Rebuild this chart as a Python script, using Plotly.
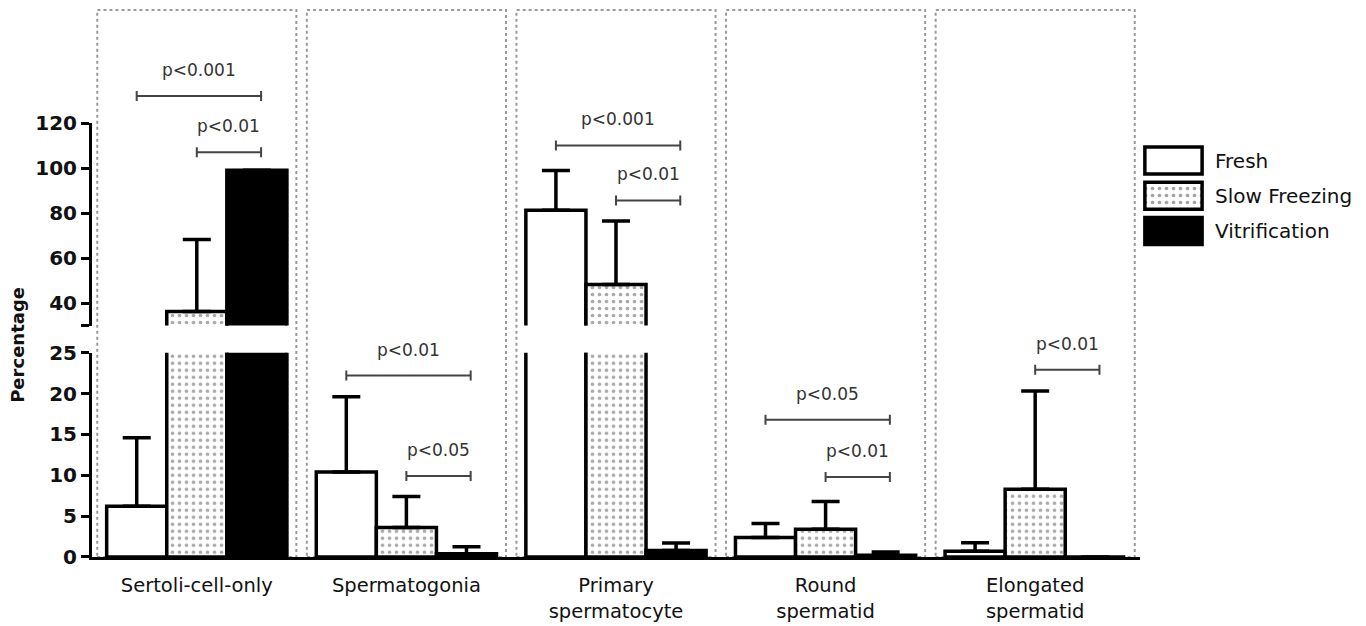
import plotly.graph_objects as go

# ---------------- data ----------------
categories = ["Sertoli-cell-only", "Spermatogonia", "Primary<br>spermatocyte",
              "Round<br>spermatid", "Elongated<br>spermatid"]
series_names = ["Fresh", "Slow Freezing", "Vitrification"]
fresh = [6.2, 10.4, 81.2, 2.4, 0.7]
fresh_err = [8.4, 9.2, 17.7, 1.7, 1.05]
slow = [36.2, 3.6, 48.2, 3.4, 8.3]
slow_err = [32.0, 3.8, 28.2, 3.4, 12.0]
vitr = [99.0, 0.4, 0.8, 0.2, 0.0]
vitr_err = [0.0, 0.85, 0.9, 0.4, 0.0]
lower_ticks = [0, 5, 10, 15, 20, 25]
upper_ticks = [30, 40, 60, 80, 100, 120]
upper_ticktext = ["", "40", "60", "80", "100", "120"]
# significance brackets: (category index, from series, to series, level, segment, label)
brackets = [
    (0, 0, 2, 132.0, "upper", "p<0.001"),
    (0, 1, 2, 107.0, "upper", "p<0.01"),
    (1, 0, 2, 22.2, "lower", "p<0.01"),
    (1, 1, 2, 9.9, "lower", "p<0.05"),
    (2, 0, 2, 110.0, "upper", "p<0.001"),
    (2, 1, 2, 85.6, "upper", "p<0.01"),
    (3, 0, 2, 16.8, "lower", "p<0.05"),
    (3, 1, 2, 9.8, "lower", "p<0.01"),
    (4, 1, 2, 22.9, "lower", "p<0.01"),
]

values = [fresh, slow, vitr]
errors = [fresh_err, slow_err, vitr_err]
fills = ["white", "white", "black"]
patterns = ["", ".", ""]

FONT = "DejaVu Sans"
BARGAP = 0.14
PATTERN = dict(size=7, solidity=0.22, fgcolor="#555", bgcolor="white")

fig = go.Figure()
for axis in ["y", "y2"]:
    for k in range(3):
        fig.add_trace(go.Bar(
            x=categories, y=values[k], name=series_names[k],
            xaxis="x", yaxis=axis, showlegend=False,
            marker=dict(color=fills[k],
                        line=dict(color="black", width=3.5),
                        pattern=dict(shape=patterns[k], **PATTERN)),
            error_y=dict(type="data", symmetric=False, array=errors[k],
                         arrayminus=[0] * len(errors[k]),
                         color="black", thickness=3.5, width=14),
        ))

# custom legend built from a tiny bar subplot
fig.add_trace(go.Bar(
    x=[1, 1, 1], y=[0, 1, 2], orientation="h", xaxis="x3", yaxis="y3",
    width=0.77, showlegend=False,
    marker=dict(color=fills, line=dict(color="black", width=3.5),
                pattern=dict(shape=patterns, **PATTERN)),
))

shapes = []
annotations = []
# dotted panel boxes
for i in range(len(categories)):
    shapes.append(dict(type="rect", xref="x", yref="paper",
                       x0=i - 0.475, x1=i + 0.475, y0=0, y1=1,
                       line=dict(color="#9a9a9a", width=2, dash="dot"),
                       layer="below"))

w = (1 - BARGAP) / 3
def offset(k):
    return (k - 1) * w

for (ci, a, b, lvl, seg, label) in brackets:
    yref = "y" if seg == "lower" else "y4"
    xa = ci + offset(a)
    xb = ci + offset(b) + 0.02
    line = dict(color="#444", width=2)
    shapes.append(dict(type="line", xref="x", yref=yref, x0=xa, x1=xb,
                       y0=lvl, y1=lvl, line=line))
    for xx in (xa, xb):
        shapes.append(dict(type="line", xref="x", yref=yref, x0=xx, x1=xx,
                           ysizemode="pixel", yanchor=lvl, y0=-5, y1=5,
                           line=line))
    annotations.append(dict(x=(xa + xb) / 2, y=lvl, xref="x", yref=yref,
                            text=label, showarrow=False, yanchor="middle",
                            yshift=26, font=dict(family=FONT, size=17, color="#333")))

for k, nm in enumerate(series_names):
    annotations.append(dict(x=0.8869, y=k, xref="paper", yref="y3", text=nm,
                            showarrow=False, xanchor="left", yanchor="middle",
                            font=dict(family=FONT, size=20, color="#111")))

annotations.append(dict(x=-0.0585, y=0.388, xref="paper", yref="paper",
                        xanchor="center", yanchor="middle",
                        text="<b>Percentage</b>", textangle=-90, showarrow=False,
                        font=dict(family=FONT, size=18, color="#111")))

axis_common = dict(showgrid=False, zeroline=False, showline=True,
                   linecolor="black", linewidth=3, ticks="outside",
                   ticklen=8, tickwidth=3, tickcolor="black", automargin=False,
                   tickfont=dict(family=FONT, size=20, color="#111", weight="bold"))

fig.update_layout(
    width=1358, height=618,
    margin=dict(l=84, r=10, t=2, b=69, autoexpand=False),
    paper_bgcolor="white", plot_bgcolor="rgba(0,0,0,0)",
    barmode="group", bargap=BARGAP, bargroupgap=0,
    xaxis=dict(domain=[0, 0.8291], anchor="y", showline=True, linecolor="black",
               linewidth=3, ticks="", showgrid=False, zeroline=False,
               range=[-0.5, 4.5], ticklabelstandoff=9, automargin=False,
               tickfont=dict(family=FONT, size=19.5, color="#111")),
    yaxis=dict(domain=[0, 0.3735], range=[0, 25], tickvals=lower_ticks,
               anchor="x", **axis_common),
    yaxis2=dict(domain=[0.4232, 0.7934], range=[30, 120], tickvals=upper_ticks,
                ticktext=upper_ticktext, anchor="x", **axis_common),
    yaxis4=dict(domain=[0.4232, 1.0], range=[30, 170.2], visible=False,
                anchor="x", automargin=False),
    xaxis3=dict(domain=[0.8307, 0.8805], range=[-0.05, 1.05], visible=False,
                anchor="y3", automargin=False),
    yaxis3=dict(domain=[0.5638, 0.7570], range=[2.5, -0.5], visible=False,
                anchor="x3", automargin=False),
    shapes=shapes, annotations=annotations,
)

fig.write_html("out.html")
